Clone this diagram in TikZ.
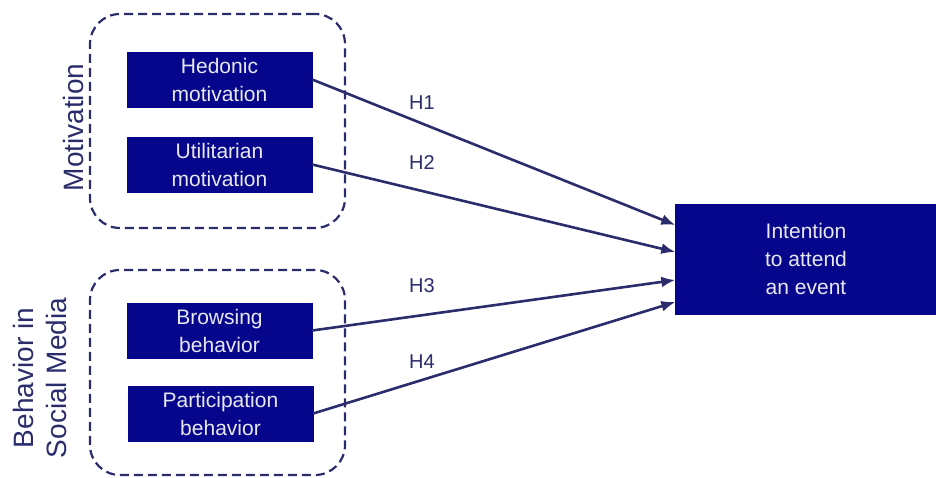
\documentclass[tikz,border=0pt]{standalone}
\usepackage{fontspec}
\setmainfont{Liberation Sans}
\usepackage{tikz}
\usetikzlibrary{positioning,arrows.meta}

\definecolor{boxblue}{RGB}{6,6,140}
\definecolor{inkblue}{RGB}{42,44,108}
\definecolor{boxtext}{RGB}{232,232,242}

\tikzset{
    factor/.style={draw=boxblue,fill=boxblue,text=boxtext,align=center,inner sep=0pt,
        minimum width=185pt,minimum height=55pt,font=\fontsize{21}{28}\selectfont},
    group/.style={draw=inkblue,dash pattern=on 9pt off 5pt,line width=2.2pt,rounded corners=30pt,
        minimum width=255pt,inner sep=0pt},
    side/.style={text=inkblue,rotate=90,align=center,font=\fontsize{28}{33}\selectfont},
    hyp/.style={text=inkblue,font=\fontsize{20}{24}\selectfont},
    path/.style={draw=inkblue,line width=2.6pt,-{Latex[length=14pt,width=11pt]}}
}

\begin{document}
\begin{tikzpicture}[x=1pt,y=-1pt]
        \useasboundingbox (0,0) rectangle (936,477);

        \node[group,minimum height=214pt] (g1) at (217.5,121) {};
        \node[group,minimum height=205pt] (g2) at (217.5,372.5) {};
        \node[side] (mot) at (73,127.5) {Motivation};
        \node[side] (beh) at (40,378) {Behavior in\\Social Media};

        \node[factor] (1) at (219.5,79.5) {Hedonic\\motivation};
        \node[factor] (2) at (219.5,164.5) {Utilitarian\\motivation};
        \node[factor] (3) at (219.5,330.5) {Browsing\\behavior};
        \node[factor] (4) at (220.5,413.5) {Participation\\behavior};
        \node[factor,minimum width=261pt,minimum height=110pt] (5) at (806,259) {Intention\\to attend\\an event};

        \draw[path] (1.east) -- ([yshift=34pt]5.west);
        \draw[path] (2.east) -- ([yshift=7pt]5.west);
        \draw[path] (3.east) -- ([yshift=-21pt]5.west);
        \draw[path] (4.east) -- ([yshift=-43pt]5.west);

        \node[hyp] (h1) at (422,103) {H1};
        \node[hyp] (h2) at (422,163) {H2};
        \node[hyp] (h3) at (422,286) {H3};
        \node[hyp] (h4) at (422,362) {H4};
    \end{tikzpicture}
\end{document}
